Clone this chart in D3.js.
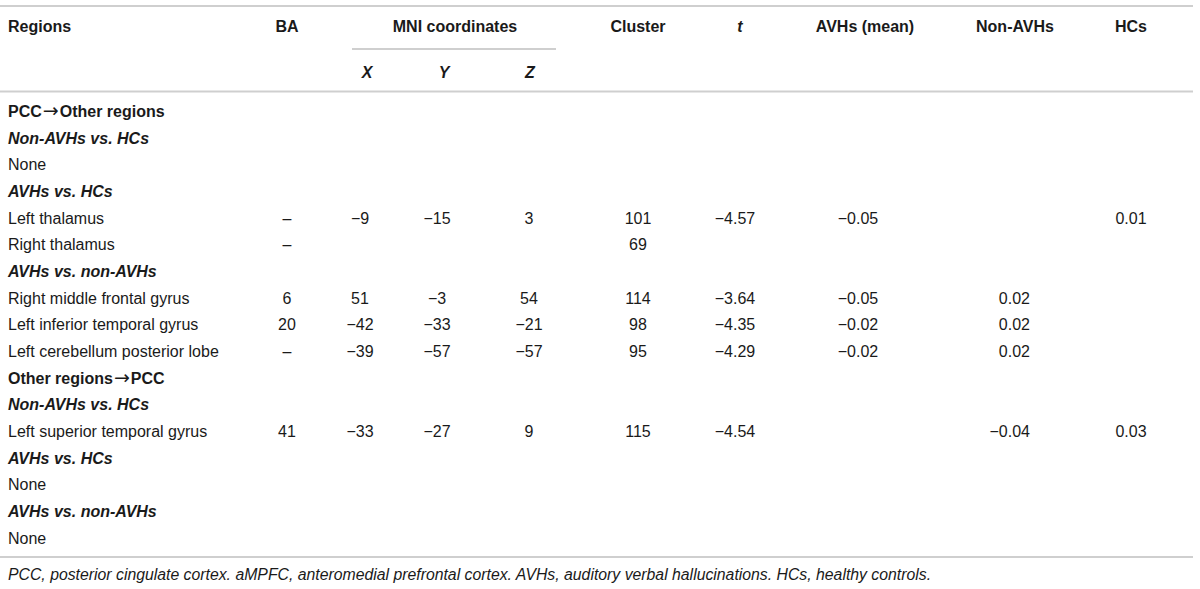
<!DOCTYPE html>
<html><head><meta charset="utf-8">
<script src="https://cdn.jsdelivr.net/npm/d3@7/dist/d3.min.js"></script>
<style>
html,body{margin:0;padding:0;background:#fff;}
svg text{font-family:"Liberation Sans",Arial,Helvetica,sans-serif;fill:#1a1a1a;}
</style></head>
<body><svg id="chart" width="1200" height="589"></svg>
<script>
// ---- data ----
const rowLabels = [
  "PCC\u2192Other regions", "Non-AVHs vs. HCs", "None", "AVHs vs. HCs",
  "Left thalamus", "Right thalamus", "AVHs vs. non-AVHs",
  "Right middle frontal gyrus", "Left inferior temporal gyrus", "Left cerebellum posterior lobe",
  "Other regions\u2192PCC", "Non-AVHs vs. HCs", "Left superior temporal gyrus",
  "AVHs vs. HCs", "None", "AVHs vs. non-AVHs", "None"
];
const rowTypes = ["section","group","plain","group","plain","plain","group","plain","plain","plain",
                  "section","group","plain","group","plain","group","plain"];
const baVals      = ["","","","","\u2013","\u2013","","6","20","\u2013","","","41","","","",""];
const mniX        = ["","","","","\u22129","","","51","\u221242","\u221239","","","\u221233","","","",""];
const mniY        = ["","","","","\u221215","","","\u22123","\u221233","\u221257","","","\u221227","","","",""];
const mniZ        = ["","","","","3","","","54","\u221221","\u221257","","","9","","","",""];
const clusterVals = ["","","","","101","69","","114","98","95","","","115","","","",""];
const tVals       = ["","","","","\u22124.57","","","\u22123.64","\u22124.35","\u22124.29","","","\u22124.54","","","",""];
const avhMean     = ["","","","","\u22120.05","","","\u22120.05","\u22120.02","\u22120.02","","","","","","",""];
const nonAvhVals  = ["","","","","","","","0.02","0.02","0.02","","","\u22120.04","","","",""];
const hcVals      = ["","","","","0.01","","","","","","","","0.03","","","",""];
const headerTop   = ["Regions","BA","MNI coordinates","Cluster","t","AVHs (mean)","Non-AVHs","HCs"];
const headerSub   = ["X","Y","Z"];
const footnote = "PCC, posterior cingulate cortex. aMPFC, anteromedial prefrontal cortex. AVHs, auditory verbal hallucinations. HCs, healthy controls.";

// ---- layout ----
const svg = d3.select("#chart");
const ruleColor = "#cfcfcf";
const FS = 16;
const y = d3.scalePoint().domain(d3.range(rowLabels.length)).range([111.5, 538]);

const colX = {ba:287, x:360, y:437, z:529, cluster:638, t:735, avh:858, non:1030, hc:1131};
const colAnchor = {non:"end"};
const headX = {ba:287, mni:455, x:367, y:444, z:530, cluster:638, t:740, avh:865, non:1015, hc:1131};

function hline(yy, x1, x2){
  svg.append("line").attr("x1",x1).attr("x2",x2).attr("y1",yy).attr("y2",yy)
     .attr("stroke",ruleColor).attr("stroke-width",2);
}
hline(6, 0, 1193);
hline(49, 352, 556);
hline(91.5, 0, 1193);
hline(557, 0, 1193);

// header
const hdr = svg.append("g").attr("font-size",FS).attr("font-weight","bold");
const hdrPos = [
  {t:headerTop[0], x:8, a:"start"},
  {t:headerTop[1], x:headX.ba, a:"middle"},
  {t:headerTop[2], x:headX.mni, a:"middle"},
  {t:headerTop[3], x:headX.cluster, a:"middle"},
  {t:headerTop[4], x:headX.t, a:"middle", it:true},
  {t:headerTop[5], x:headX.avh, a:"middle"},
  {t:headerTop[6], x:headX.non, a:"middle"},
  {t:headerTop[7], x:headX.hc, a:"middle"}
];
hdr.selectAll("text.top").data(hdrPos).join("text")
  .attr("x",d=>d.x).attr("y",26).attr("dy","0.35em")
  .attr("text-anchor",d=>d.a)
  .attr("font-style",d=>d.it?"italic":"normal")
  .text(d=>d.t);
hdr.selectAll("text.sub").data(headerSub).join("text")
  .attr("x",(d,i)=>[headX.x,headX.y,headX.z][i]).attr("y",72).attr("dy","0.35em")
  .attr("text-anchor","middle").attr("font-style","italic").text(d=>d);

// rows
const body = svg.append("g").attr("font-size",FS);
const labels = body.selectAll("text.lab").data(rowLabels).join("text")
  .attr("x",8).attr("y",(d,i)=>y(i)).attr("dy","0.35em")
  .attr("font-weight",(d,i)=>rowTypes[i]==="plain"?"normal":"bold")
  .attr("font-style",(d,i)=>rowTypes[i]==="group"?"italic":"normal");
labels.each(function(d){
  const sel = d3.select(this);
  const parts = d.split("\u2192");
  parts.forEach((p,k)=>{
    if(k>0){
      sel.append("tspan").attr("font-family","DejaVu Sans").attr("font-weight","normal")
        .attr("font-size",19).attr("dx",1).text("\u2192");
      sel.append("tspan").attr("dx",1).text(p);
    } else sel.append("tspan").text(p);
  });
});

const cols = [
  {k:"ba", v:baVals}, {k:"x", v:mniX}, {k:"y", v:mniY}, {k:"z", v:mniZ},
  {k:"cluster", v:clusterVals}, {k:"t", v:tVals}, {k:"avh", v:avhMean},
  {k:"non", v:nonAvhVals}, {k:"hc", v:hcVals}
];
cols.forEach(c=>{
  body.append("g").selectAll("text").data(c.v.map((v,i)=>({v,i})).filter(d=>d.v!==""))
    .join("text")
    .attr("x",colX[c.k]).attr("y",d=>y(d.i)).attr("dy","0.35em")
    .attr("text-anchor",colAnchor[c.k]||"middle").text(d=>d.v);
});

svg.append("text").attr("x",8).attr("y",574).attr("dy","0.35em")
  .attr("font-size",15.8).attr("font-style","italic").text(footnote);
</script></body></html>
